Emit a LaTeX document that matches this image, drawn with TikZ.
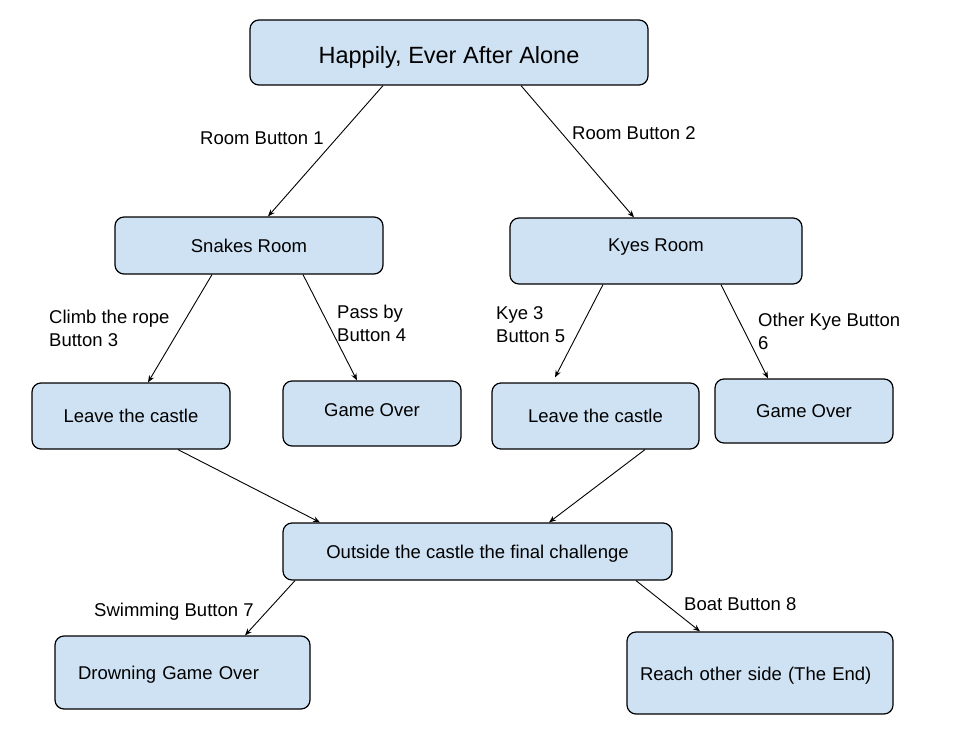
\documentclass[tikz,border=0pt]{standalone}
\usepackage{fontspec}
\setmainfont{Liberation Sans}
\usetikzlibrary{arrows.meta}
\definecolor{boxblue}{HTML}{CFE2F3}
\begin{document}
\begin{tikzpicture}[x=1pt,y=-1pt,
 box/.style={draw=black, fill=boxblue, rounded corners=9pt, line width=1.2pt, inner sep=0pt,
   text height=13.2pt, text depth=0pt, font=\fontsize{18.5}{23}\selectfont},
 lbl/.style={inner sep=0pt, anchor=base west, align=left, font=\fontsize{18.5}{23}\selectfont},
 conn/.style={draw=black, line width=0.9pt, -{Stealth[length=7pt,width=5.5pt]}}]
\useasboundingbox (0,0) rectangle (958,733);
\fill[white] (0,0) rectangle (958,733);

\node[box, minimum width=398, minimum height=65, font=\fontsize{23.5}{28}\selectfont, text height=22.8pt] (top) at (449,52.5) {Happily, Ever After Alone};
\node[box, minimum width=268, minimum height=57] (snakes) at (249,245.5) {Snakes Room};
\node[box, minimum width=292, minimum height=66, text depth=12pt] (kyes) at (656,251) {Kyes Room};
\node[box, minimum width=198, minimum height=66] (leaveL) at (131,416) {Leave the castle};
\node[box, minimum width=178, minimum height=65, text depth=7pt] (goL) at (372,413.5) {Game Over};
\node[box, minimum width=207, minimum height=66] (leaveR) at (595.5,416) {Leave the castle};
\node[box, minimum width=178, minimum height=64] (goR) at (804,411) {Game Over};
\node[box, minimum width=389, minimum height=57] (outside) at (477.5,551.5) {Outside the castle the final challenge};
\node[box, minimum height=73, inner xsep=23pt, text width=209pt, align=left] (drown) at (182.5,672.5) {Drowning Game Over};
\node[box, minimum height=82, inner xsep=13pt, text width=240pt, align=left, text height=15.2pt] (reach) at (760,673) {Reach other side (The End)};

\draw[conn] ([xshift=-66pt]top.south) -- ([xshift=19pt]snakes.north);
\draw[conn] ([xshift=72pt]top.south) -- ([xshift=-22pt]kyes.north);
\draw[conn] ([xshift=-37pt]snakes.south) -- ([xshift=17pt]leaveL.north);
\draw[conn] ([xshift=54pt]snakes.south) -- ([xshift=-15pt]goL.north);
\draw[conn] ([xshift=-53pt]kyes.south) -- ([xshift=-40.5pt,yshift=5pt]leaveR.north);
\draw[conn] ([xshift=65pt]kyes.south) -- ([xshift=-36pt]goR.north);
\draw[conn] ([xshift=47pt]leaveL.south) -- ([xshift=-157.5pt]outside.north);
\draw[conn] ([xshift=49.5pt]leaveR.south) -- ([xshift=71.5pt]outside.north);
\draw[conn] ([xshift=-182.5pt]outside.south) -- ([xshift=62.5pt]drown.north);
\draw[conn] ([xshift=158.5pt]outside.south) -- ([xshift=-60pt]reach.north);

\node[lbl] (l1) at (200,144.6) {Room Button 1};
\node[lbl] (l2) at (572,139.6) {Room Button 2};
\node[lbl] (l3) at (49,346.6) {Climb the rope\\Button 3};
\node[lbl] (l4) at (337,341.6) {Pass by\\Button 4};
\node[lbl] (l5) at (496,342.6) {Kye 3\\Button 5};
\node[lbl] (l6) at (758,349.6) {Other Kye Button\\6};
\node[lbl] (l7) at (94,616.6) {Swimming Button 7};
\node[lbl] (l8) at (684,610.6) {Boat Button 8};
\end{tikzpicture}
\end{document}
